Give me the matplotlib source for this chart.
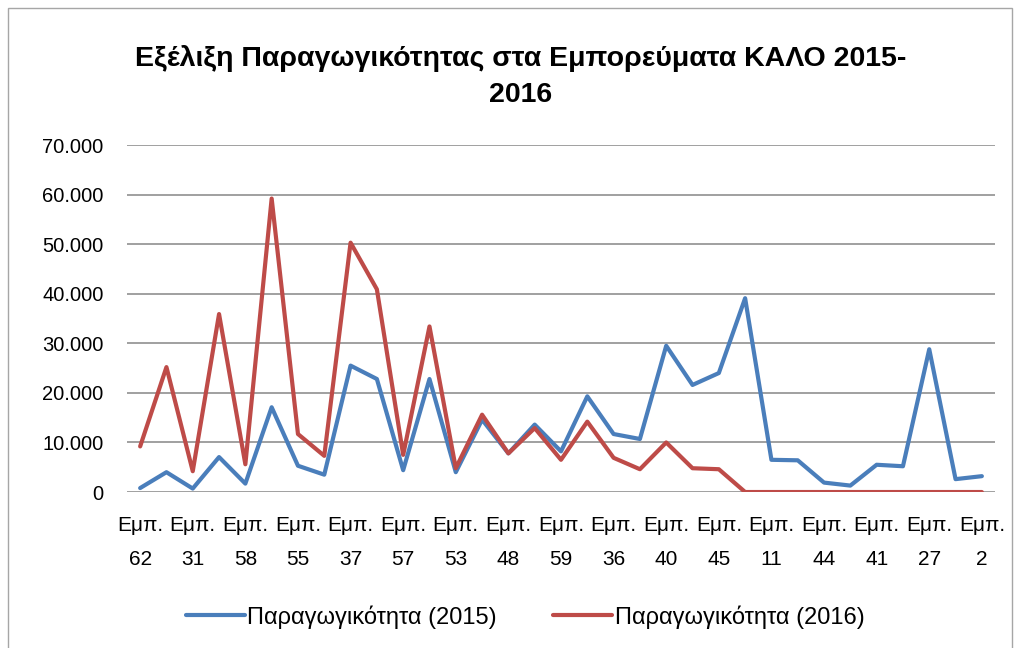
import matplotlib
matplotlib.use("Agg")
import matplotlib.pyplot as plt
import numpy as np
from matplotlib.patches import Rectangle
from matplotlib.ticker import FuncFormatter, MultipleLocator

plt.rcParams["font.family"] = ["Liberation Sans", "DejaVu Sans"]

TITLE = "Εξέλιξη Παραγωγικότητας στα Εμπορεύματα ΚΑΛΟ 2015-\n2016"
# only every other category name is printed on the axis
SHOWN_LABELS = ["62", "31", "58", "55", "37", "57", "53", "48", "59",
                "36", "40", "45", "11", "44", "41", "27", "2"]
prod_2015 = [800, 4000, 700, 7050, 1700, 17100, 5300, 3500, 25500, 22800,
             4400, 22800, 4000, 14600, 7800, 13600, 8200, 19300, 11700,
             10700, 29500, 21600, 24000, 39100, 6500, 6400, 1900, 1300,
             5500, 5200, 28800, 2600, 3200]
prod_2016 = [9200, 25200, 4200, 35900, 5600, 59200, 11700, 7300, 50300,
             40900, 7500, 33400, 4800, 15600, 7800, 12900, 6500, 14200,
             6900, 4600, 10000, 4800, 4600, 0, 0, 0, 0, 0, 0, 0, 0, 0, 0]
SERIES = ["Παραγωγικότητα (2015)", "Παραγωγικότητα (2016)"]
COLORS = ["#4A7EBB", "#BE4B48"]

fig = plt.figure(figsize=(10.2, 6.48), dpi=100)
ax = fig.add_axes([0.1245, 0.2407, 0.851, 0.5355])

x = np.arange(len(prod_2015))
for vals, lbl, col in zip((prod_2015, prod_2016), SERIES, COLORS):
    ax.plot(x, vals, color=col, lw=3.0, label=lbl,
            solid_joinstyle="round", solid_capstyle="round")

ax.set_xlim(-0.5, len(x) - 0.5)
ax.set_ylim(0, 70000)
ax.yaxis.set_major_locator(MultipleLocator(10000))
ax.yaxis.set_major_formatter(
    FuncFormatter(lambda v, _: f"{int(v):,}".replace(",", ".")))
ax.grid(axis="y", color="#868686", lw=1.1)
ax.set_axisbelow(True)
for s in ax.spines.values():
    s.set_visible(False)

ax.set_xticks(x[::2], [f"Εμπ.\n{c}" for c in SHOWN_LABELS])
ax.tick_params(axis="x", length=0, pad=17, labelsize=15)
ax.tick_params(axis="y", length=0, pad=17, labelsize=14.5)
for t in ax.get_xticklabels():
    t.set_linespacing(2.0)

fig.text(0.510, 0.882, TITLE, ha="center", va="center", fontsize=20.5,
         fontweight="bold", linespacing=1.5)

fig.legend(loc="center", bbox_to_anchor=(525 / 1020, 0.048), ncol=2,
           frameon=False, fontsize=17, handlelength=2.5,
           handletextpad=0.1, columnspacing=2.4)

fig.add_artist(Rectangle((8 / 1020, -0.02), 1004 / 1020, 0.9877 + 0.02,
                         transform=fig.transFigure, fill=False,
                         edgecolor="#a6a6a6", lw=1))

fig.savefig("out.png", dpi=100)
